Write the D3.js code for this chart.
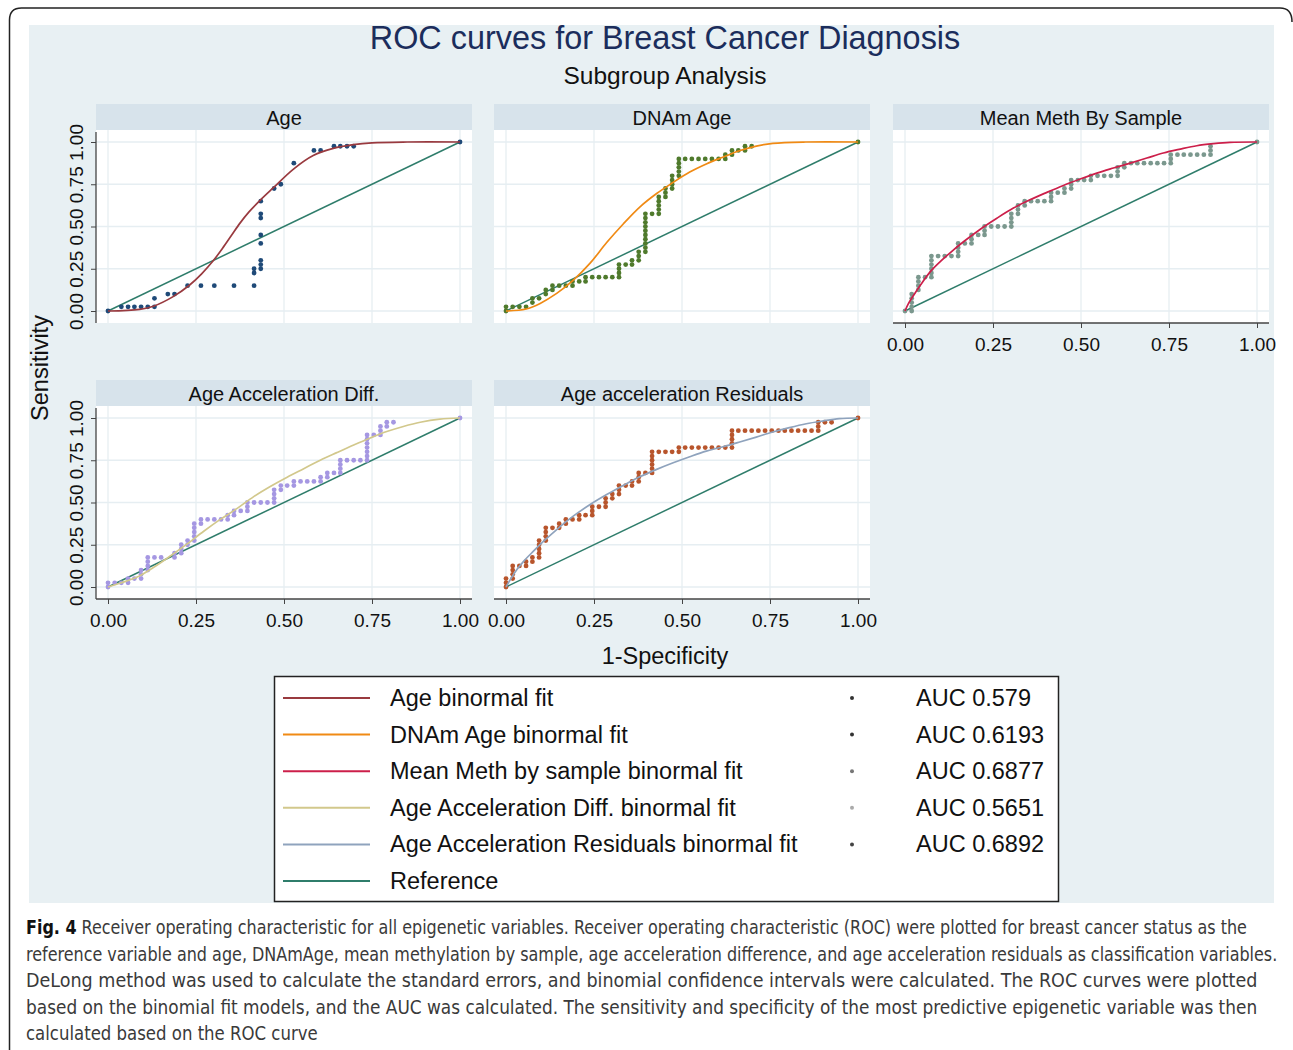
<!DOCTYPE html>
<html>
<head>
<meta charset="utf-8">
<script src="https://d3js.org/d3.v7.min.js"></script>
<style>
  body { margin: 0; background: #fff; }
  text { font-family: "Liberation Sans", Arial, sans-serif; }
</style>
</head>
<body>
<div id="chart"></div>
<script>
// ---- data ----
var panelTitles = ["Age", "DNAm Age", "Mean Meth By Sample", "Age Acceleration Diff.", "Age acceleration Residuals"];
var tickValues = [0, 0.25, 0.5, 0.75, 1];
var refLine = [[0, 0], [1, 1]];

// empirical ROC points [1-specificity, sensitivity]
var ageDots = [[0,0],[.038,.025],[.057,.025],[.075,.025],[.094,.025],[.113,.025],[.132,.025],[.132,.075],
  [.170,.1],[.189,.1],[.226,.15],[.264,.15],[.302,.15],[.358,.15],[.415,.15],[.415,.225],[.415,.25],
  [.434,.25],[.434,.275],[.434,.3],[.434,.4],[.434,.45],[.434,.55],[.434,.575],[.434,.65],[.472,.725],
  [.491,.75],[.528,.875],[.585,.95],[.604,.95],[.642,.975],[.660,.975],[.679,.975],[.698,.975],[1,1]];

var dnamDots = [[0,0],[0,.025],[.019,.025],[.038,.025],[.057,.025],[.075,.05],[.075,.075],[.094,.075],
  [.113,.1],[.113,.125],[.132,.125],[.132,.15],[.151,.15],[.170,.15],[.189,.15],[.189,.175],[.208,.175],
  [.226,.175],[.226,.2],[.245,.2],[.264,.2],[.283,.2],[.302,.2],[.321,.2],[.321,.225],[.321,.25],[.321,.275],
  [.340,.275],[.358,.275],[.358,.3],[.377,.3],[.377,.325],[.377,.35],[.396,.35],[.396,.375],[.396,.4],
  [.396,.425],[.396,.45],[.396,.475],[.396,.5],[.396,.525],[.396,.55],[.396,.575],[.415,.575],[.434,.575],
  [.434,.6],[.434,.625],[.434,.65],[.434,.675],[.453,.675],[.453,.7],[.453,.725],[.472,.725],[.472,.75],
  [.472,.775],[.472,.8],[.491,.8],[.491,.825],[.491,.85],[.491,.875],[.491,.9],[.509,.9],[.528,.9],[.547,.9],
  [.566,.9],[.585,.9],[.604,.9],[.623,.9],[.623,.925],[.642,.925],[.642,.95],[.660,.95],[.679,.95],
  [.679,.975],[.698,.975],[1,1]];

var methDots = [[0,0],[.019,0],[.019,.025],[.019,.05],[.019,.075],[.019,.1],[.038,.125],[.038,.15],
  [.038,.175],[.038,.2],[.057,.2],[.075,.2],[.075,.225],[.075,.25],[.075,.275],[.075,.3],[.075,.325],
  [.094,.325],[.113,.325],[.132,.325],[.151,.325],[.151,.35],[.151,.375],[.151,.4],[.170,.4],[.189,.4],
  [.189,.425],[.189,.45],[.208,.45],[.226,.45],[.226,.475],[.226,.5],[.245,.5],[.264,.5],[.283,.5],
  [.302,.5],[.302,.525],[.302,.55],[.302,.575],[.321,.575],[.321,.6],[.321,.625],[.340,.625],[.340,.65],
  [.358,.65],[.377,.65],[.396,.65],[.415,.65],[.415,.675],[.415,.7],[.434,.7],[.453,.7],[.453,.725],
  [.472,.725],[.472,.75],[.472,.775],[.491,.775],[.509,.775],[.528,.775],[.528,.8],[.547,.8],[.566,.8],
  [.585,.8],[.604,.8],[.604,.825],[.604,.85],[.623,.85],[.623,.875],[.642,.875],[.660,.875],[.679,.875],
  [.698,.875],[.717,.875],[.736,.875],[.755,.875],[.755,.9],[.755,.925],[.774,.925],[.792,.925],
  [.811,.925],[.830,.925],[.849,.925],[.868,.925],[.868,.95],[.868,.975],[1,1]];

var diffDots = [[0,0],[0,.025],[.019,.025],[.038,.025],[.057,.025],[.057,.05],[.075,.05],[.094,.05],
  [.094,.075],[.094,.1],[.113,.1],[.113,.125],[.113,.15],[.113,.175],[.132,.175],[.151,.175],[.189,.175],
  [.189,.2],[.208,.2],[.208,.225],[.208,.25],[.226,.25],[.226,.275],[.245,.275],[.245,.3],[.245,.325],
  [.245,.35],[.245,.375],[.264,.375],[.264,.4],[.283,.4],[.302,.4],[.321,.4],[.340,.4],[.340,.425],
  [.358,.425],[.358,.45],[.377,.45],[.396,.45],[.396,.475],[.396,.5],[.415,.5],[.434,.5],[.453,.5],
  [.472,.5],[.472,.525],[.472,.55],[.472,.575],[.491,.575],[.491,.6],[.509,.6],[.528,.6],[.528,.625],
  [.547,.625],[.566,.625],[.585,.625],[.604,.625],[.604,.65],[.623,.65],[.623,.675],[.642,.675],
  [.660,.675],[.660,.7],[.660,.725],[.660,.75],[.679,.75],[.698,.75],[.717,.75],[.736,.75],[.736,.775],
  [.736,.8],[.736,.825],[.736,.85],[.736,.875],[.736,.9],[.755,.9],[.774,.9],[.774,.925],[.774,.95],
  [.792,.95],[.792,.975],[.811,.975],[1,1]];

var residDots = [[0,0],[0,.025],[0,.05],[.019,.05],[.019,.075],[.019,.1],[.019,.125],[.038,.125],
  [.057,.125],[.057,.15],[.075,.15],[.075,.175],[.094,.175],[.094,.2],[.094,.225],[.094,.25],[.094,.275],
  [.113,.275],[.113,.3],[.113,.325],[.113,.35],[.132,.35],[.151,.35],[.151,.375],[.170,.375],[.170,.4],
  [.189,.4],[.208,.4],[.208,.425],[.226,.425],[.245,.425],[.245,.45],[.245,.475],[.264,.475],[.283,.475],
  [.283,.5],[.283,.525],[.302,.525],[.302,.55],[.321,.55],[.321,.575],[.321,.6],[.340,.6],[.358,.6],
  [.358,.625],[.377,.625],[.377,.65],[.377,.675],[.396,.675],[.415,.675],[.415,.7],[.415,.725],[.415,.75],
  [.415,.775],[.415,.8],[.434,.8],[.453,.8],[.472,.8],[.491,.8],[.491,.825],[.509,.825],[.528,.825],
  [.547,.825],[.566,.825],[.585,.825],[.604,.825],[.623,.825],[.642,.825],[.642,.85],[.642,.875],
  [.642,.9],[.642,.925],[.660,.925],[.679,.925],[.698,.925],[.717,.925],[.736,.925],[.755,.925],
  [.774,.925],[.792,.925],[.811,.925],[.830,.925],[.849,.925],[.868,.925],[.887,.925],[.887,.95],
  [.887,.975],[.906,.975],[.925,.975],[1,1]];

// binormal fit curves
var ageFit = [[0,0],[.09,.01],[.131,.03],[.185,.085],[.232,.154],[.266,.22],[.300,.30],[.325,.37],
  [.350,.445],[.375,.52],[.400,.585],[.432,.655],[.470,.73],[.527,.84],[.583,.92],[.640,.962],
  [.697,.984],[.75,.995],[.85,1],[1,1]];
var dnamFit = [[0,0],[.057,.012],[.097,.045],[.144,.104],[.189,.178],[.239,.283],[.286,.405],[.333,.515],
  [.380,.615],[.428,.695],[.472,.757],[.522,.822],[.569,.870],[.616,.910],[.663,.948],[.711,.976],
  [.758,.992],[.852,1],[1,1]];
var methFit = [[0,0],[.010,.045],[.025,.095],[.044,.154],[.072,.233],[.100,.292],[.129,.346],[.167,.411],
  [.214,.484],[.261,.549],[.308,.609],[.355,.658],[.403,.702],[.450,.743],[.498,.781],[.545,.816],
  [.592,.846],[.640,.875],[.687,.905],[.734,.935],[.782,.958],[.829,.978],[.876,.990],[.923,.998],[1,1]];
var diffFit = [[0,0],[.036,.024],[.083,.059],[.130,.117],[.178,.185],[.225,.255],[.272,.33],[.319,.40],
  [.367,.465],[.414,.535],[.461,.595],[.509,.65],[.556,.70],[.603,.75],[.650,.795],[.698,.84],
  [.745,.882],[.792,.92],[.839,.95],[.887,.975],[.943,.993],[1,1]];
var residFit = [[0,0],[.012,.043],[.031,.103],[.050,.152],[.078,.212],[.107,.271],[.144,.340],[.191,.419],
  [.239,.488],[.286,.547],[.333,.601],[.380,.652],[.428,.696],[.475,.735],[.522,.771],[.569,.804],
  [.617,.830],[.664,.858],[.711,.887],[.758,.917],[.805,.943],[.853,.966],[.899,.982],[.947,.996],[1,1]];

var legendLabels = ["Age binormal fit", "DNAm Age binormal fit", "Mean Meth by sample binormal fit",
  "Age Acceleration Diff. binormal fit", "Age Acceleration Residuals binormal fit", "Reference"];
var aucLabels = ["AUC 0.579", "AUC 0.6193", "AUC 0.6877", "AUC 0.5651", "AUC 0.6892"];

var captionLines = [
  " Receiver operating characteristic for all epigenetic variables. Receiver operating characteristic (ROC) were plotted for breast cancer status as the",
  "reference variable and age, DNAmAge, mean methylation by sample, age acceleration difference, and age acceleration residuals as classification variables.",
  "DeLong method was used to calculate the standard errors, and binomial confidence intervals were calculated. The ROC curves were plotted",
  "based on the binomial fit models, and the AUC was calculated. The sensitivity and specificity of the most predictive epigenetic variable was then",
  "calculated based on the ROC curve"
];

// ---- styles ----
var fitColors = ["#993a3f", "#f08a14", "#cc1f4a", "#d2c88c", "#8fa3bd"];
var dotColors = ["#1f4a78", "#4f7a2c", "#7b988e", "#a597e2", "#b8552c"];
var refColor = "#2f7d6b";
var legendDotColors = ["#333", "#333", "#777", "#aaa", "#444"];

var width = 1293, height = 1050;

var svg = d3.select("#chart")
  .append("svg")
    .attr("width", width)
    .attr("height", height);

// outer frame (open at the bottom right)
svg.append("path")
    .attr("d", "M9.5,1050 L9.5,20 Q9.5,8 21.5,8 L1280,8 Q1292,8 1292,22")
    .attr("fill", "none")
    .attr("stroke", "#222")
    .attr("stroke-width", 1.5);

// graph region
svg.append("rect")
    .attr("x", 29).attr("y", 25)
    .attr("width", 1245).attr("height", 878)
    .attr("fill", "#e8f0f3");

svg.append("text")
    .attr("x", 665).attr("y", 38)
    .attr("text-anchor", "middle")
    .attr("dominant-baseline", "central")
    .attr("font-size", "32.4px")
    .attr("fill", "#1b2d5c")
    .text("ROC curves for Breast Cancer Diagnosis");

svg.append("text")
    .attr("x", 665).attr("y", 75)
    .attr("text-anchor", "middle")
    .attr("dominant-baseline", "central")
    .attr("font-size", "24.5px")
    .attr("fill", "#111")
    .text("Subgroup Analysis");

// ---- panels ----
var cols = [96, 494, 893], rows = [104, 380];
var panelW = 376, headH = 26, plotH = 193, pad = 12;

var panels = [
  {i: 0, dots: ageDots,   fit: ageFit,   col: 0, row: 0, yAxis: true,  xAxis: false},
  {i: 1, dots: dnamDots,  fit: dnamFit,  col: 1, row: 0, yAxis: false, xAxis: false},
  {i: 2, dots: methDots,  fit: methFit,  col: 2, row: 0, yAxis: false, xAxis: true},
  {i: 3, dots: diffDots,  fit: diffFit,  col: 0, row: 1, yAxis: true,  xAxis: true},
  {i: 4, dots: residDots, fit: residFit, col: 1, row: 1, yAxis: false, xAxis: true}
];

panels.forEach(function(p) {
  var left = cols[p.col], top = rows[p.row];
  var plotTop = top + headH, plotBottom = plotTop + plotH;

  var x = d3.scaleLinear().domain([0, 1]).range([left + pad, left + panelW - pad]);
  var y = d3.scaleLinear().domain([0, 1]).range([plotBottom - pad, plotTop + pad]);

  var g = svg.append("g");

  // title strip
  g.append("rect")
      .attr("x", left).attr("y", top)
      .attr("width", panelW).attr("height", headH)
      .attr("fill", "#d7e3eb");
  g.append("text")
      .attr("x", left + panelW / 2).attr("y", top + headH / 2 + 1)
      .attr("text-anchor", "middle")
      .attr("dominant-baseline", "central")
      .attr("font-size", "20px")
      .attr("fill", "#111")
      .text(panelTitles[p.i]);

  // plot area + grid
  g.append("rect")
      .attr("x", left).attr("y", plotTop)
      .attr("width", panelW).attr("height", plotH)
      .attr("fill", "#fff");
  g.selectAll(".vgrid").data(tickValues).enter().append("line")
      .attr("x1", function(d) { return x(d); }).attr("x2", function(d) { return x(d); })
      .attr("y1", plotTop).attr("y2", plotBottom)
      .attr("stroke", "#e6eef2").attr("stroke-width", 1.3);
  g.selectAll(".hgrid").data(tickValues).enter().append("line")
      .attr("x1", left).attr("x2", left + panelW)
      .attr("y1", function(d) { return y(d); }).attr("y2", function(d) { return y(d); })
      .attr("stroke", "#e6eef2").attr("stroke-width", 1.3);

  var line = d3.line()
      .x(function(d) { return x(d[0]); })
      .y(function(d) { return y(d[1]); });

  // reference diagonal
  g.append("path")
      .datum(refLine)
      .attr("d", line)
      .attr("fill", "none")
      .attr("stroke", refColor)
      .attr("stroke-width", 1.5);

  // empirical points
  g.selectAll(".dot").data(p.dots).enter().append("circle")
      .attr("cx", function(d) { return x(d[0]); })
      .attr("cy", function(d) { return y(d[1]); })
      .attr("r", 2.4)
      .attr("fill", dotColors[p.i]);

  // binormal fit
  g.append("path")
      .datum(p.fit)
      .attr("d", line.curve(d3.curveCatmullRom.alpha(0.5)))
      .attr("fill", "none")
      .attr("stroke", fitColors[p.i])
      .attr("stroke-width", 1.7);

  // axes
  if (p.yAxis) {
    var ya = g.append("g")
        .attr("transform", "translate(" + left + ",0)")
        .call(d3.axisLeft(y).tickValues(tickValues).tickFormat(d3.format(".2f")).tickSize(5).tickSizeOuter(0));
    ya.select(".domain").remove();
    ya.selectAll(".tick line").attr("stroke", "#444");
    ya.selectAll(".tick text")
        .attr("transform", "rotate(-90)")
        .attr("x", 0).attr("y", -13).attr("dy", 0)
        .attr("text-anchor", "middle")
        .attr("font-size", "19px")
        .attr("font-family", "Liberation Sans, Arial, sans-serif")
        .attr("fill", "#111");
    g.append("line")
        .attr("x1", left).attr("x2", left)
        .attr("y1", plotTop + 2).attr("y2", plotBottom)
        .attr("stroke", "#444").attr("stroke-width", 1.3);
  }
  if (p.xAxis) {
    var xa = g.append("g")
        .attr("transform", "translate(0," + plotBottom + ")")
        .call(d3.axisBottom(x).tickValues(tickValues).tickFormat(d3.format(".2f")).tickSize(5).tickSizeOuter(0));
    xa.select(".domain").remove();
    xa.selectAll(".tick line").attr("stroke", "#444");
    xa.selectAll(".tick text")
        .attr("y", 15)
        .attr("font-size", "19px")
        .attr("font-family", "Liberation Sans, Arial, sans-serif")
        .attr("fill", "#111");
    g.append("line")
        .attr("x1", left).attr("x2", left + panelW)
        .attr("y1", plotBottom).attr("y2", plotBottom)
        .attr("stroke", "#444").attr("stroke-width", 1.3);
  }
});

// axis titles
svg.append("text")
    .attr("transform", "translate(40,368) rotate(-90)")
    .attr("text-anchor", "middle")
    .attr("dominant-baseline", "central")
    .attr("font-size", "23.5px")
    .attr("fill", "#111")
    .text("Sensitivity");

svg.append("text")
    .attr("x", 665).attr("y", 656)
    .attr("text-anchor", "middle")
    .attr("dominant-baseline", "central")
    .attr("font-size", "23.5px")
    .attr("fill", "#111")
    .text("1-Specificity");

// ---- legend ----
var legend = svg.append("g");
legend.append("rect")
    .attr("x", 274.5).attr("y", 676.5)
    .attr("width", 784).attr("height", 225)
    .attr("fill", "#fff")
    .attr("stroke", "#222")
    .attr("stroke-width", 1.5);

var legendY = d3.scaleLinear().domain([0, 5]).range([698, 881]);
var legendColors = fitColors.concat([refColor]);

legendLabels.forEach(function(lab, i) {
  var yy = legendY(i);
  legend.append("line")
      .attr("x1", 283).attr("x2", 370)
      .attr("y1", yy).attr("y2", yy)
      .attr("stroke", legendColors[i])
      .attr("stroke-width", 2);
  legend.append("text")
      .attr("x", 390).attr("y", yy)
      .attr("dominant-baseline", "central")
      .attr("font-size", "23.5px")
      .attr("fill", "#111")
      .text(lab);
  if (i < aucLabels.length) {
    legend.append("circle")
        .attr("cx", 852).attr("cy", yy)
        .attr("r", 2)
        .attr("fill", legendDotColors[i]);
    legend.append("text")
        .attr("x", 916).attr("y", yy)
        .attr("dominant-baseline", "central")
        .attr("font-size", "23.5px")
        .attr("fill", "#111")
        .text(aucLabels[i]);
  }
});

// ---- caption: condensed face, each line scaled to the printed width ----
var captionWidths = [1222, 1252, 1232, 1232, 292];
captionLines.forEach(function(txt, i) {
  var t = svg.append("text")
      .attr("x", 0)
      .attr("y", 0)
      .attr("font-size", "19px")
      .attr("fill", "#3a3a3a")
      .style("font-family", "'DejaVu Sans Condensed', 'Liberation Sans Narrow', sans-serif");
  if (i === 0) {
    t.append("tspan").attr("font-weight", "bold").attr("fill", "#111").text("Fig. 4");
  }
  t.append("tspan").text(txt);
  var w = t.node().getComputedTextLength();
  var sx = captionWidths[i] / w;
  t.attr("transform", "translate(26," + (934 + i * 26.6) + ") scale(" + sx + ",1)");
});
</script>
</body>
</html>
